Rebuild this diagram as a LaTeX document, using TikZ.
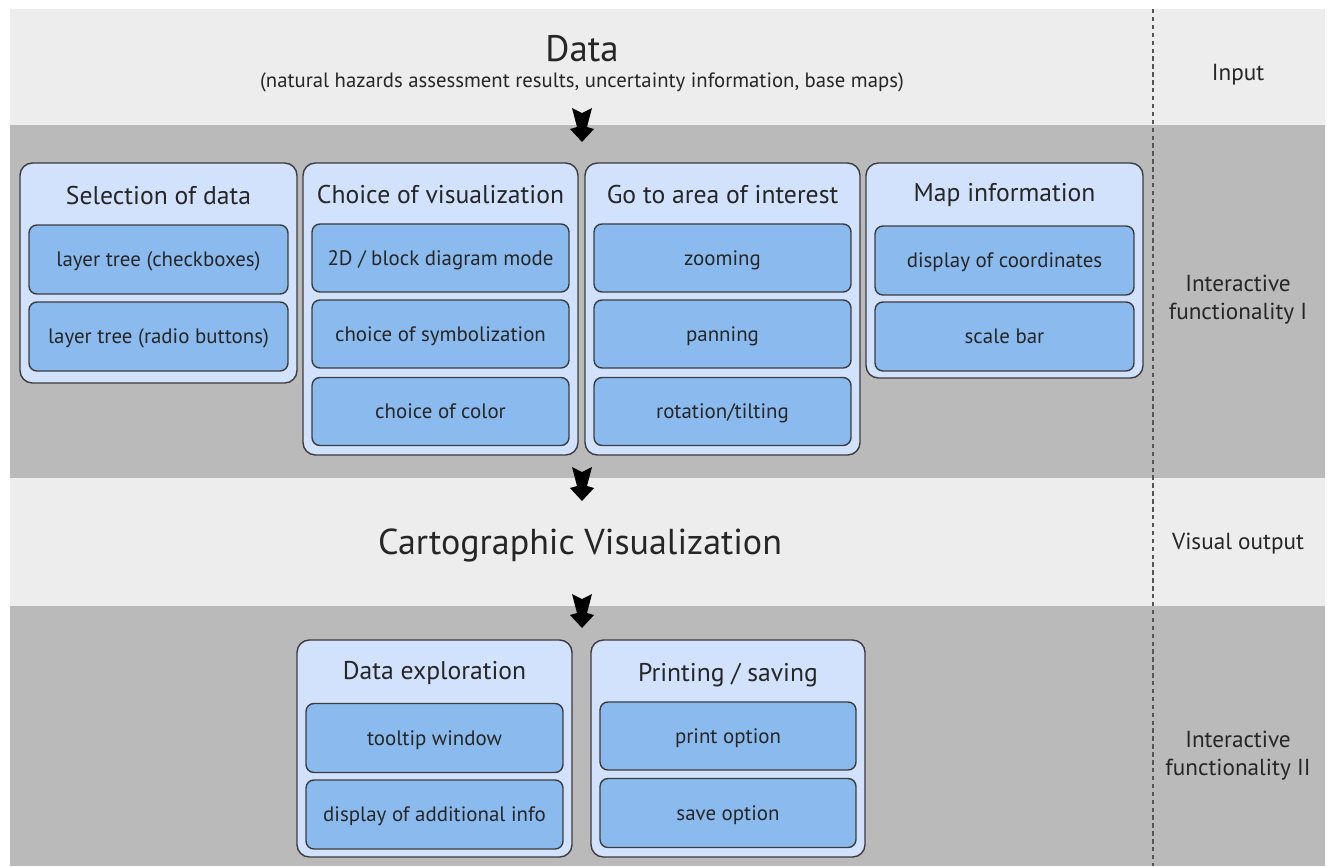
\documentclass[tikz,border=0pt]{standalone}
\usepackage{fontspec}
\setmainfont{PT Sans}
\usetikzlibrary{positioning}

\definecolor{bandlight}{HTML}{EDEDED}
\definecolor{banddark}{HTML}{BABABA}
\definecolor{panelfill}{HTML}{D2E2FD}
\definecolor{itemfill}{HTML}{8BBBEE}
\definecolor{edgegray}{HTML}{3C3C3C}
\definecolor{dashgray}{HTML}{555555}

\tikzset{
  panel/.style={draw=edgegray, line width=0.8pt, fill=panelfill, rounded corners=7pt},
  item/.style={draw=edgegray, line width=0.8pt, fill=itemfill, rounded corners=4.5pt,
    text=black!85, text depth=0pt, font=\fontsize{11.9}{14}\selectfont},
  ptitle/.style={text=black!85, font=\fontsize{14.6}{17}\selectfont},
  sidelabel/.style={align=center, text=black!85, font=\fontsize{13.2}{16}\selectfont},
  pics/bigarrow/.style={code={
    \fill (-10,0) -- (0,5) -- (10,0) -- (5,19) -- (12,21) -- (0,34) -- (-12,21) -- (-5,19) -- cycle;}}
}

\begin{document}
\begin{tikzpicture}[x=0.02cm, y=-0.02cm]
    \useasboundingbox (0,0) rectangle (1327,866);

    % Bands
    \fill[bandlight] (10,9) rectangle (1325,125);
    \fill[banddark] (10,125) rectangle (1325,478);
    \fill[bandlight] (10,478) rectangle (1325,606);
    \fill[banddark] (10,606) rectangle (1325,866);
    \draw[dashgray, line width=1.2pt, dash pattern=on 2.5pt off 2pt] (1153,9) -- (1153,866);

    % Input
    \node[text=black!85, font=\fontsize{21}{24}\selectfont] (data) at (582,49) {Data};
    \node[text=black!85, font=\fontsize{11.8}{14}\selectfont] (datasub) at (582,82)
      {(natural hazards assessment results, uncertainty information, base maps)};
    \node[sidelabel] (input) at (1238,75) {Input};
    \pic (arr1) at (582,108) {bigarrow};

    % Interactive functionality I
    \node[panel, minimum width=5.54cm, minimum height=4.4cm] (sel) at (158.5,273) {};
    \node[ptitle] (selT) at (158.5,196) {Selection of data};
    \node[item, minimum width=5.18cm, minimum height=1.38cm] (sel1) at (158.5,259.5) {layer tree (checkboxes)};
    \node[item, minimum width=5.18cm, minimum height=1.38cm] (sel2) at (158.5,336.5) {layer tree (radio buttons)};

    \node[panel, minimum width=5.5cm, minimum height=5.84cm] (vis) at (440.5,309) {};
    \node[ptitle] (visT) at (440.5,195) {Choice of visualization};
    \node[item, minimum width=5.14cm, minimum height=1.36cm] (vis1) at (440.5,258) {2D / block diagram mode};
    \node[item, minimum width=5.14cm, minimum height=1.36cm] (vis2) at (440.5,334) {choice of symbolization};
    \node[item, minimum width=5.14cm, minimum height=1.36cm] (vis3) at (440.5,411.5) {choice of color};

    \node[panel, minimum width=5.5cm, minimum height=5.84cm] (area) at (722.5,309) {};
    \node[ptitle] (areaT) at (722.5,195) {Go to area of interest};
    \node[item, minimum width=5.14cm, minimum height=1.36cm] (area1) at (722.5,258) {zooming};
    \node[item, minimum width=5.14cm, minimum height=1.36cm] (area2) at (722.5,334) {panning};
    \node[item, minimum width=5.14cm, minimum height=1.36cm] (area3) at (722.5,411.5) {rotation/tilting};

    \node[panel, minimum width=5.54cm, minimum height=4.3cm] (map) at (1004.5,270.5) {};
    \node[ptitle] (mapT) at (1004.5,195) {Map information};
    \node[item, minimum width=5.18cm, minimum height=1.38cm] (map1) at (1004.5,260.5) {display of coordinates};
    \node[item, minimum width=5.18cm, minimum height=1.38cm] (map2) at (1004.5,336.5) {scale bar};

    \node[sidelabel] (inter1) at (1238,300) {Interactive\\functionality I};
    \pic (arr2) at (582,467) {bigarrow};

    % Visual output
    \node[text=black!85, font=\fontsize{20.5}{24}\selectfont] (carto) at (580,545) {Cartographic Visualization};
    \node[sidelabel] (visout) at (1238,544) {Visual output};
    \pic (arr3) at (582,594) {bigarrow};

    % Interactive functionality II
    \node[panel, minimum width=5.5cm, minimum height=4.34cm] (expl) at (434.5,748.5) {};
    \node[ptitle] (explT) at (434.5,673) {Data exploration};
    \node[item, minimum width=5.14cm, minimum height=1.38cm] (expl1) at (434.5,738) {tooltip window};
    \node[item, minimum width=5.14cm, minimum height=1.38cm] (expl2) at (434.5,814.5) {display of additional info};

    \node[panel, minimum width=5.48cm, minimum height=4.34cm] (prt) at (728,748.5) {};
    \node[ptitle] (prtT) at (728,675) {Printing / saving};
    \node[item, minimum width=5.12cm, minimum height=1.36cm] (prt1) at (728,736) {print option};
    \node[item, minimum width=5.12cm, minimum height=1.38cm] (prt2) at (728,813) {save option};

    \node[sidelabel] (inter2) at (1238,756) {Interactive\\functionality II};
\end{tikzpicture}
\end{document}
